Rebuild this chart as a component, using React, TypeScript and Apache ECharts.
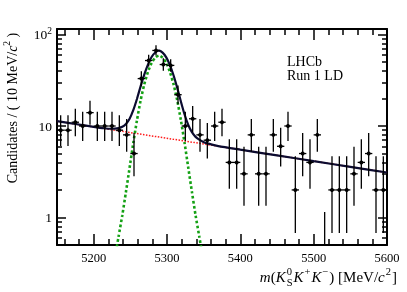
import { useEffect, useRef } from "react";
import * as echarts from "echarts";

// ---------- axis ranges and ticks ----------
const X_MIN = 5150;
const X_MAX = 5600;
const Y_MIN = 0.5;
const Y_MAX = 115;
const BIN_HALF_WIDTH = 5;

const X_TICK_LABELS = [5200, 5300, 5400, 5500, 5600];
const X_MINOR_TICKS = [
  5160, 5180, 5220, 5240, 5260, 5280, 5320, 5340, 5360, 5380, 5420, 5440,
  5460, 5480, 5520, 5540, 5560, 5580,
];
const Y_TICK_LABELS = [1, 10, 100];
const Y_MINOR_TICKS = [
  0.6, 0.7, 0.8, 0.9, 2, 3, 4, 5, 6, 7, 8, 9, 20, 30, 40, 50, 60, 70, 80, 90,
];

// ---------- data (10 MeV bins) ----------
const BIN_CENTERS = [
  5155, 5165, 5175, 5185, 5195, 5205, 5215, 5225, 5235, 5245, 5255, 5265,
  5275, 5285, 5295, 5305, 5315, 5325, 5335, 5345, 5355, 5365, 5375, 5385,
  5395, 5405, 5415, 5425, 5435, 5445, 5455, 5465, 5475, 5485, 5495, 5505,
  5515, 5525, 5535, 5545, 5555, 5565, 5575, 5585, 5595,
];
const COUNTS = [
  9, 9, 11, 10, 14, 10, 10, 10, 9, 8, 5, 33, 52, 67, 47, 46, 22, 10, 12, 8, 7,
  10, 11, 4, 4, 3, 8, 3, 3, 8, 6, 10, 2, 5, 4, 8, 0, 2, 2, 2, 3, 4, 5, 2, 2,
];

// ---------- fit curves ----------
const BKG_MASS = [5150, 5600];
const BKG_VALUES = [11.3, 3.1];

const SIGNAL_MASS = [
  5224, 5229, 5234, 5239, 5244, 5249, 5254, 5259, 5264, 5269, 5274, 5279,
  5284, 5289, 5294, 5299, 5304, 5309, 5314, 5319, 5324, 5329, 5334, 5339,
  5344, 5349, 5354,
];
const SIGNAL_VALUES = [
  0.2, 0.36, 0.62, 1.05, 1.9, 3.5, 6.5, 11.5, 19, 28.5, 39, 49, 56, 59, 56,
  49, 39, 28.5, 19, 11.5, 6.5, 3.5, 1.9, 1.05, 0.62, 0.36, 0.2,
];

const TOTAL_MASS = [
  5150, 5175, 5200, 5214, 5224, 5229, 5234, 5239, 5244, 5249, 5254, 5259,
  5264, 5269, 5274, 5279, 5284, 5289, 5294, 5299, 5304, 5309, 5314, 5319,
  5324, 5329, 5334, 5339, 5344, 5349, 5354, 5370, 5400, 5450, 5500, 5550,
  5600,
];
const TOTAL_VALUES = [
  11.3, 10.52, 9.79, 9.45, 9.33, 9.37, 9.5, 9.8, 10.53, 12.0, 14.88, 19.76,
  27.14, 36.53, 46.91, 56.8, 63.69, 66.58, 63.47, 56.36, 46.26, 35.66, 26.05,
  18.45, 13.35, 10.26, 8.56, 7.61, 7.09, 6.74, 6.49, 6.03, 5.51, 4.77, 4.13,
  3.58, 3.1,
];

const FONT = '"Liberation Serif", "Times New Roman", Times, serif';

// Poisson (68.3%) interval as drawn by RooFit
function poissonInterval(n: number): [number, number] {
  if (n === 0) return [0, 1.148];
  return [n - Math.sqrt(n - 0.25), n + 1 + Math.sqrt(n + 0.75)];
}

function measure(text: string, font: string): number {
  const ctx = document.createElement("canvas").getContext("2d");
  if (!ctx) return text.length * 7;
  ctx.font = font;
  return ctx.measureText(text).width;
}

export default function App() {
  const ref = useRef<HTMLDivElement>(null);

  useEffect(() => {
    if (!ref.current) return;
    const chart = echarts.init(ref.current, undefined, { renderer: "svg" });

    const pointData = BIN_CENTERS.map((m, i) => {
      const [lo, hi] = poissonInterval(COUNTS[i]);
      return [m, COUNTS[i], lo, hi];
    });

    const lineStyleAxis = { color: "#000", width: 2 };
    const tickStyle = { color: "#000", width: 1.5 };

    const xBase = {
      type: "value",
      min: X_MIN,
      max: X_MAX,
      splitLine: { show: false },
      axisPointer: { show: false },
    };
    const yBase = {
      type: "log",
      logBase: 10,
      min: Y_MIN,
      max: Y_MAX,
      splitLine: { show: false },
      axisPointer: { show: false },
    };

    // y title rich styles
    const ySize = 14;
    const ySup = 9.5;
    const yRich = {
      n: { fontFamily: FONT, fontSize: ySize, fontStyle: "normal", lineHeight: 20, fill: "#000" },
      i: { fontFamily: FONT, fontSize: ySize, fontStyle: "italic", lineHeight: 20, fill: "#000" },
      sup: { fontFamily: FONT, fontSize: ySup, fontStyle: "normal", lineHeight: 11, verticalAlign: "top", fill: "#000" },
    };

    // x title rich styles
    const xSize = 15;
    const xSub = 10.5;
    const pad = 1;
    const xRich = {
      n: { fontFamily: FONT, fontSize: xSize, fontStyle: "normal", lineHeight: 22, fill: "#000" },
      i: { fontFamily: FONT, fontSize: xSize, fontStyle: "italic", lineHeight: 22, fill: "#000" },
      sup: { fontFamily: FONT, fontSize: xSub, fontStyle: "normal", lineHeight: 12, verticalAlign: "top", padding: [0, pad, 0, pad], fill: "#000" },
      sub: { fontFamily: FONT, fontSize: xSub, fontStyle: "normal", lineHeight: 12, verticalAlign: "bottom", padding: [0, pad, 0, pad], fill: "#000" },
    };
    const fN = `${xSize}px "Liberation Serif"`;
    const fI = `italic ${xSize}px "Liberation Serif"`;
    const fS = `${xSub}px "Liberation Serif"`;
    const pieces: [string, string, number][] = [
      ["m", fI, 0],
      ["(", fN, 0],
      ["K", fI, 0],
      ["S", fS, 2 * pad],
      ["K", fI, 0],
      ["+", fS, 2 * pad],
      ["K", fI, 0],
      ["\u2212", fS, 2 * pad],
      [") [MeV/", fN, 0],
      ["c", fI, 0],
      ["2", fS, 2 * pad],
      ["]", fN, 0],
    ];
    const totalW = pieces.reduce((s, p) => s + measure(p[0], p[1]) + p[2], 0);
    const xTitleRight = 397;
    const xTitleLeft = xTitleRight - totalW;
    const sPos =
      xTitleLeft + measure("m", fI) + measure("(", fN) + measure("K", fI) + pad;

    const option: any = {
      animation: false,
      grid: { left: 57, right: 20, top: 29, bottom: 47, containLabel: false },
      xAxis: [
        {
          ...xBase,
          position: "bottom",
          axisLine: { show: true, onZero: false, lineStyle: lineStyleAxis },
          axisTick: { show: true, inside: true, length: 11, customValues: X_TICK_LABELS, lineStyle: tickStyle },
          axisLabel: {
            show: true,
            customValues: X_TICK_LABELS,
            color: "#000",
            fontFamily: FONT,
            fontSize: 12.5,
            margin: 6,
            formatter: (v: number) => String(Math.round(v)),
          },
        },
        {
          ...xBase,
          position: "bottom",
          axisLine: { show: false, onZero: false },
          axisTick: { show: true, inside: true, length: 6, customValues: X_MINOR_TICKS, lineStyle: tickStyle },
          axisLabel: { show: false },
        },
        {
          ...xBase,
          position: "top",
          axisLine: { show: true, onZero: false, lineStyle: lineStyleAxis },
          axisTick: { show: true, inside: true, length: 11, customValues: X_TICK_LABELS, lineStyle: tickStyle },
          axisLabel: { show: false },
        },
        {
          ...xBase,
          position: "top",
          axisLine: { show: false, onZero: false },
          axisTick: { show: true, inside: true, length: 6, customValues: X_MINOR_TICKS, lineStyle: tickStyle },
          axisLabel: { show: false },
        },
      ],
      yAxis: [
        {
          ...yBase,
          position: "left",
          axisLine: { show: true, onZero: false, lineStyle: lineStyleAxis },
          axisTick: { show: true, inside: true, length: 9, customValues: Y_TICK_LABELS, lineStyle: tickStyle },
          axisLabel: {
            show: true,
            customValues: Y_TICK_LABELS,
            color: "#000",
            fontFamily: FONT,
            fontSize: 13.5,
            lineHeight: 18,
            margin: 5,
            formatter: (v: number) => {
              const r = Math.round(v);
              return r === 100 ? "{b|10}{sup|2}" : "{b|" + String(r) + "}";
            },
            rich: {
              b: { fontFamily: FONT, fontSize: 13.5, lineHeight: 18, color: "#000" },
              sup: { fontFamily: FONT, fontSize: 9.5, lineHeight: 11, verticalAlign: "top", color: "#000" },
            },
          },
        },
        {
          ...yBase,
          position: "left",
          axisLine: { show: false, onZero: false },
          axisTick: { show: true, inside: true, length: 5, customValues: Y_MINOR_TICKS, lineStyle: tickStyle },
          axisLabel: { show: false },
        },
        {
          ...yBase,
          position: "right",
          axisLine: { show: true, onZero: false, lineStyle: lineStyleAxis },
          axisTick: { show: true, inside: true, length: 9, customValues: Y_TICK_LABELS, lineStyle: tickStyle },
          axisLabel: { show: false },
        },
        {
          ...yBase,
          position: "right",
          axisLine: { show: false, onZero: false },
          axisTick: { show: true, inside: true, length: 5, customValues: Y_MINOR_TICKS, lineStyle: tickStyle },
          axisLabel: { show: false },
        },
      ],
      series: [
        {
          type: "line",
          name: "background",
          xAxisIndex: 0,
          yAxisIndex: 0,
          data: BKG_MASS.map((m, i) => [m, BKG_VALUES[i]]),
          symbol: "none",
          clip: true,
          lineStyle: { color: "#ff1a1a", width: 1.5, type: [1.5, 1.5] },
          z: 2,
        },
        {
          type: "line",
          name: "signal",
          xAxisIndex: 0,
          yAxisIndex: 0,
          data: SIGNAL_MASS.map((m, i) => [m, SIGNAL_VALUES[i]]),
          symbol: "none",
          smooth: 0.2,
          clip: true,
          lineStyle: { color: "#13a013", width: 2.6, type: [2.6, 2.4] },
          z: 3,
        },
        {
          type: "line",
          name: "total",
          xAxisIndex: 0,
          yAxisIndex: 0,
          data: TOTAL_MASS.map((m, i) => [m, TOTAL_VALUES[i]]),
          symbol: "none",
          smooth: 0.2,
          clip: true,
          lineStyle: { color: "#0b0b30", width: 2.2 },
          z: 4,
        },
        {
          type: "custom",
          name: "data",
          xAxisIndex: 0,
          yAxisIndex: 0,
          data: pointData,
          encode: { x: 0, y: 3 },
          z: 5,
          renderItem: (_params: any, api: any) => {
            const m = api.value(0);
            const n = api.value(1);
            const lo = Math.max(api.value(2), Y_MIN);
            const hi = Math.min(api.value(3), Y_MAX);
            const top = api.coord([m, hi]);
            const bot = api.coord([m, lo]);
            const children: any[] = [
              {
                type: "line",
                shape: { x1: top[0], y1: top[1], x2: bot[0], y2: bot[1] },
                style: { stroke: "#000", lineWidth: 1.3 },
              },
            ];
            if (n > 0) {
              const l = api.coord([m - BIN_HALF_WIDTH, n]);
              const r = api.coord([m + BIN_HALF_WIDTH, n]);
              children.push({
                type: "line",
                shape: { x1: l[0], y1: l[1], x2: r[0], y2: r[1] },
                style: { stroke: "#000", lineWidth: 1.3 },
              });
              children.push({
                type: "circle",
                shape: { cx: (l[0] + r[0]) / 2, cy: l[1], r: 2 },
                style: { fill: "#000" },
              });
            }
            return { type: "group", children };
          },
        },
      ],
      graphic: [
        {
          type: "text",
          left: 287,
          top: 54,
          style: {
            text: "LHCb\nRun 1 LD",
            fontFamily: FONT,
            fontSize: 14,
            lineHeight: 14,
            fill: "#000",
          },
        },
        {
          type: "text",
          x: 12,
          y: 108,
          rotation: Math.PI / 2,
          style: {
            text: "{n|Candidates / ( 10 MeV/}{i|c}{sup|2}{n| )}",
            rich: yRich,
            fontFamily: FONT,
            fontSize: ySize,
            fill: "#000",
            align: "center",
            verticalAlign: "middle",
          },
        },
        {
          type: "text",
          x: xTitleLeft,
          y: 277,
          style: {
            text:
              "{i|m}{n|(}{i|K}{sub|S}{i|K}{sup|+}{i|K}{sup|\u2212}{n|) [MeV/}{i|c}{sup|2}{n|]}",
            rich: xRich,
            fontFamily: FONT,
            fontSize: xSize,
            fill: "#000",
            align: "left",
            verticalAlign: "middle",
          },
        },
        {
          type: "text",
          x: sPos,
          y: 271.5,
          style: {
            text: "0",
            fontFamily: FONT,
            fontSize: xSub,
            fill: "#000",
            align: "left",
            verticalAlign: "middle",
          },
        },
      ],
    };

    chart.setOption(option);
    return () => chart.dispose();
  }, []);

  return (
    <div
      ref={ref}
      style={{ position: "fixed", left: 0, top: 0, width: 407, height: 292 }}
    />
  );
}
